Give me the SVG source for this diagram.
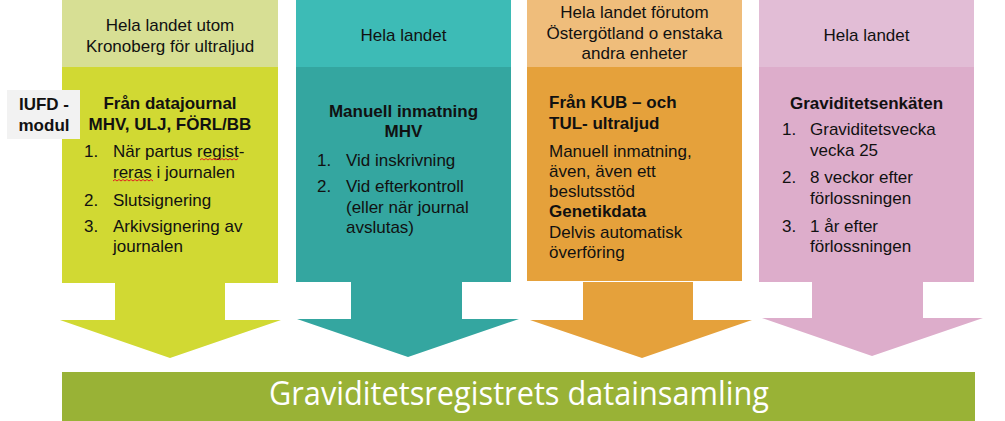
<svg xmlns="http://www.w3.org/2000/svg" width="1005" height="421" viewBox="0 0 1005 421">
<style>
text{font-family:"Liberation Sans",Arial,sans-serif;font-size:17px;fill:#111}
.b{font-weight:bold}
.c{text-anchor:middle}
.bar{font-family:"Open Sans","Liberation Sans",sans-serif;font-size:33px;fill:#fff}
.sq{fill:none;stroke:#e02020;stroke-width:1}
</style>
<rect width="1005" height="421" fill="#fff"/>
<g id="col1">
<rect x="62" y="0" width="216" height="67" fill="#d7df94"/>
<rect x="62" y="67" width="216" height="216" fill="#d1d933"/>
<polygon points="115,283 225,283 225,320 281,320 170,358 60,320 115,320" fill="#d1d933"/>
<text class="c" x="170" y="31">Hela landet utom</text>
<text class="c" x="170" y="52">Kronoberg för ultraljud</text>
<text class="b c" x="170" y="109">Från datajournal</text>
<text class="b c" x="170" y="130">MHV, ULJ, FÖRL/BB</text>
<text x="84" y="157">1.</text><text x="113" y="157">När partus regist-</text>
<text x="113" y="178">reras i journalen</text>
<text x="84" y="206">2.</text><text x="113" y="206">Slutsignering</text>
<text x="84" y="232">3.</text><text x="113" y="232">Arkivsignering av</text>
<text x="113" y="252">journalen</text>
<path class="sq" d="M200,160 l2,-1.5 l2,1.5 l2,-1.5 l2,1.5 l2,-1.5 l2,1.5 l2,-1.5 l2,1.5 l2,-1.5 l2,1.5 l2,-1.5 l2,1.5 l2,-1.5 l2,1.5 l2,-1.5 l2,1.5 l2,-1.5 l2,1.5 l2,-1.5"/>
<path class="sq" d="M113,181 l2,-1.5 l2,1.5 l2,-1.5 l2,1.5 l2,-1.5 l2,1.5 l2,-1.5 l2,1.5 l2,-1.5 l2,1.5 l2,-1.5 l2,1.5 l2,-1.5 l2,1.5 l2,-1.5 l2,1.5 l2,-1.5 l2,1.5 l2,-1.5 l2,1.5"/>
</g>
<g id="iufd">
<rect x="7" y="90" width="73" height="49" fill="#f2f2f2"/>
<text class="b c" x="44" y="110">IUFD -</text>
<text class="b c" x="44" y="131">modul</text>
</g>
<g id="col2">
<rect x="296" y="0" width="215" height="67" fill="#3dbbb6"/>
<rect x="296" y="67" width="215" height="215" fill="#34a6a0"/>
<polygon points="351,282 462,282 462,319 519,319 408,357 297,319 351,319" fill="#34a6a0"/>
<text class="c" x="403.5" y="41">Hela landet</text>
<text class="b c" x="403.5" y="117">Manuell inmatning</text>
<text class="b c" x="403.5" y="137">MHV</text>
<text x="317" y="166">1.</text><text x="346" y="166">Vid inskrivning</text>
<text x="317" y="192">2.</text><text x="346" y="192">Vid efterkontroll</text>
<text x="346" y="213">(eller när journal</text>
<text x="346" y="233">avslutas)</text>
</g>
<g id="col3">
<rect x="527" y="0" width="215" height="67" fill="#efbd7b"/>
<rect x="527" y="67" width="215" height="214" fill="#e5a13b"/>
<polygon points="583,282 693,282 693,320 752,320 642,358 530,320 583,320" fill="#e5a13b"/>
<text class="c" x="634.5" y="18">Hela landet förutom</text>
<text class="c" x="634.5" y="39">Östergötland o enstaka</text>
<text class="c" x="634.5" y="59">andra enheter</text>
<text class="b" x="549" y="108">Från KUB – och</text>
<text class="b" x="549" y="129">TUL- ultraljud</text>
<text x="549" y="157">Manuell inmatning,</text>
<text x="549" y="177">även, även ett</text>
<text x="549" y="197">beslutsstöd</text>
<text class="b" x="549" y="217">Genetikdata</text>
<text x="549" y="238">Delvis automatisk</text>
<text x="549" y="258">överföring</text>
</g>
<g id="col4">
<rect x="759" y="0" width="215" height="67" fill="#e2bdd6"/>
<rect x="759" y="67" width="215" height="215" fill="#ddadcb"/>
<polygon points="812,282 923,282 923,318 983,318 872,356 762,318 812,318" fill="#ddadcb"/>
<text class="c" x="866.5" y="41">Hela landet</text>
<text class="b c" x="866.5" y="109">Graviditetsenkäten</text>
<text x="782" y="135">1.</text><text x="810" y="135">Graviditetsvecka</text>
<text x="810" y="156">vecka 25</text>
<text x="782" y="183">2.</text><text x="810" y="183">8 veckor efter</text>
<text x="810" y="204">förlossningen</text>
<text x="782" y="232">3.</text><text x="810" y="232">1 år efter</text>
<text x="810" y="252">förlossningen</text>
</g>
<g id="connectors"></g>
<g id="bar">
<rect x="62" y="372" width="913" height="49" fill="#99b236"/>
<text class="bar" x="269" y="405" textLength="500" lengthAdjust="spacingAndGlyphs">Graviditetsregistrets datainsamling</text>
</g>
</svg>
